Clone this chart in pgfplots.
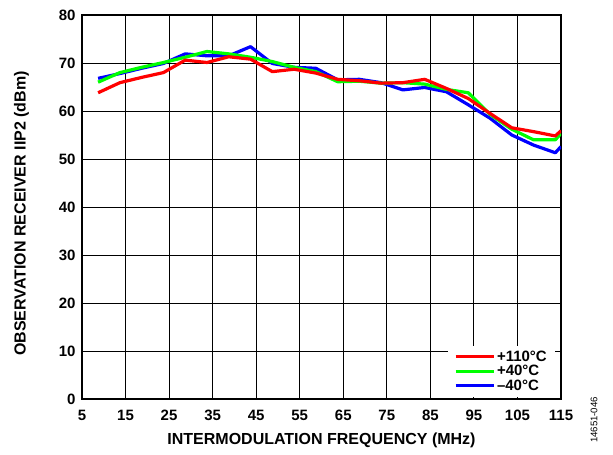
\documentclass[border=0pt]{standalone}
\usepackage{pgfplots}
\pgfplotsset{compat=1.18}
\usepackage{fontspec}
\setmainfont{Liberation Sans}
\definecolor{cred}{RGB}{255,0,0}
\definecolor{cgreen}{RGB}{0,255,0}
\definecolor{cblue}{RGB}{0,0,255}
\begin{document}
\begin{tikzpicture}
\useasboundingbox (-82bp,-56bp) rectangle (531bp,399bp);
\begin{axis}[
  scale only axis, width=479bp, height=384bp,
  at={(0,0)}, anchor=south west,
  xmin=5, xmax=115, ymin=0, ymax=80,
  xtick={5,15,...,115}, ytick={0,10,...,80},
  grid=major, major grid style={black, line width=0.9bp},
  axis line style={black, line width=1.6bp},
  tick style={draw=none},
  /pgf/number format/assume math mode=true,
  ticklabel style={font=\fontsize{15bp}{15bp}\selectfont\bfseries},
  xticklabel style={yshift=-8bp},
  yticklabel style={xshift=-3bp},
  xlabel={INTERMODULATION FREQUENCY (MHz)},
  ylabel={OBSERVATION RECEIVER IIP2 (dBm)},
  label style={font=\fontsize{16bp}{16bp}\selectfont\bfseries},
  xlabel style={at={(axis description cs:0.5,-0.1068)}, anchor=center},
  ylabel style={at={(axis description cs:-0.1263,0.483)}, anchor=center},
  legend cell align=left,
  legend style={at={(axis description cs:0.9875,0.005)}, anchor=south east,
    draw=none, fill=white, font=\fontsize{15bp}{15bp}\selectfont\bfseries,
    inner xsep=6bp, inner ysep=3bp, row sep=-1.5bp},
  legend image code/.code={\draw[#1, line width=3bp] (0bp,0bp) -- (38bp,0bp);},
  reverse legend,
  every axis plot/.append style={line width=3.2bp, line join=round},
]
\addplot[cblue] coordinates {
(8.7,66.8) (13.7,67.8) (18.7,68.9) (23.7,69.9) (28.7,71.9) (33.7,71.5) (38.7,71.5) (43.7,73.4)
(48.7,69.9) (53.7,69.1) (58.7,68.9) (63.7,66.5) (68.7,66.6) (73.7,65.9) (78.7,64.4) (83.7,64.9)
(88.7,64.0) (93.7,61.3) (98.7,58.5) (103.7,55.0) (108.7,52.9) (113.7,51.3) (115,52.6)};
\addlegendentry{\textendash40°C}
\addplot[cgreen] coordinates {
(8.7,66.0) (13.7,68.0) (18.7,69.1) (23.7,70.1) (28.7,71.2) (33.7,72.4) (38.7,71.9) (43.7,71.2)
(48.7,70.3) (53.7,69.1) (58.7,68.2) (63.7,66.1) (68.7,66.2) (73.7,65.8) (78.7,65.9) (83.7,65.6)
(88.7,64.5) (93.7,63.8) (98.7,59.3) (103.7,56.2) (108.7,54.0) (113.7,54.0) (115,55.3)};
\addlegendentry{+40°C}
\addplot[cred] coordinates {
(8.7,63.8) (13.7,65.9) (18.7,67.0) (23.7,68.0) (28.7,70.6) (33.7,70.1) (38.7,71.3) (43.7,70.8)
(48.7,68.2) (53.7,68.7) (58.7,67.9) (63.7,66.6) (68.7,66.3) (73.7,65.8) (78.7,65.9) (83.7,66.6)
(88.7,64.7) (93.7,62.6) (98.7,59.5) (103.7,56.5) (108.7,55.7) (113.7,54.8) (115,55.9)};
\addlegendentry{+110°C}
\end{axis}
\node[rotate=90, font=\fontsize{9.6bp}{9.6bp}\selectfont] at (512bp,-21bp) {14651-046};
\end{tikzpicture}
\end{document}
